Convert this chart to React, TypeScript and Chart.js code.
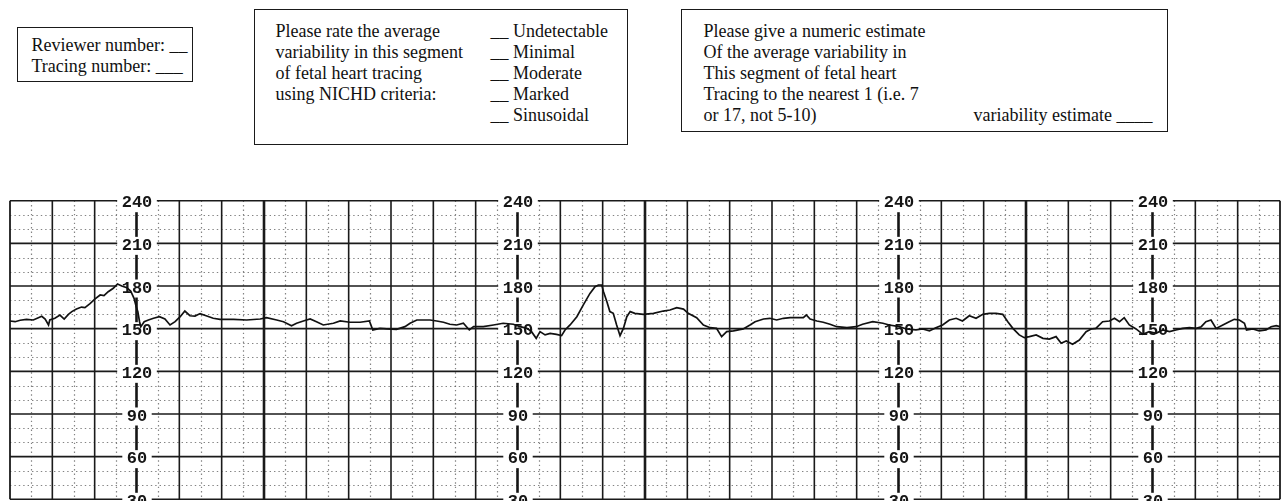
import React, { useEffect, useRef } from "react";
import { Chart, registerables } from "chart.js";

Chart.register(...registerables);

// Time axis in grid cells (30 cells across the strip), FHR in bpm
const timeCells = [
  0, 0.12, 0.24, 0.39, 0.55, 0.67, 0.75, 0.83, 0.91, 0.94,
  1.06, 1.18, 1.28, 1.38, 1.46, 1.57, 1.69, 1.77, 1.89, 2.01,
  2.13, 2.22, 2.32, 2.44, 2.54, 2.64, 2.76, 2.85, 2.93, 2.98,
  3.02, 3.06, 3.09, 3.17, 3.27, 3.39, 3.53, 3.66, 3.78, 3.9,
  4.02, 4.13, 4.25, 4.37, 4.49, 4.65, 4.8, 4.96, 5.28, 5.59,
  5.91, 6.06, 6.3, 6.46, 6.65, 6.77, 6.93, 7.09, 7.24, 7.4,
  7.64, 7.8, 8.03, 8.27, 8.49, 8.57, 8.74, 8.9, 9.13, 9.33,
  9.45, 9.61,
  9.92, 10.08, 10.24, 10.39, 10.55, 10.71, 10.85, 10.95, 11.18, 11.42,
  11.65, 11.89, 12.05, 12.21, 12.32, 12.43, 12.52, 12.64, 12.76, 12.91,
  13.03, 13.11, 13.23, 13.39, 13.54, 13.7, 13.82, 13.9, 13.98, 14.02,
  14.1, 14.17, 14.25, 14.33, 14.41, 14.49, 14.57, 14.65, 14.76, 14.96,
  15.2, 15.43, 15.59, 15.75, 15.91, 16.02, 16.22, 16.38, 16.54, 16.69,
  16.81, 16.93, 17.09, 17.32, 17.48, 17.6, 17.8, 17.95, 18.11, 18.27,
  18.43, 18.58, 18.74, 18.81, 18.9, 19.06, 19.21, 19.37, 19.53, 19.77,
  19.99, 20.14, 20.38, 20.62, 20.77, 21.01, 21.17, 21.4, 21.56, 21.72,
  21.87, 22.03, 22.19, 22.35, 22.5, 22.66, 22.82, 22.98, 23.13, 23.29,
  23.45, 23.57, 23.69, 23.84, 23.96, 24.08, 24.24, 24.4, 24.55, 24.71,
  24.83, 24.95, 25.1, 25.26, 25.42, 25.54, 25.65, 25.81, 25.97, 26.09,
  26.21, 26.32, 26.44, 26.6, 26.76, 26.91, 27.07, 27.23, 27.39, 27.54,
  27.7, 27.86, 28.02, 28.14, 28.25, 28.37, 28.49, 28.65, 28.8, 28.92,
  29.04, 29.16, 29.21, 29.36, 29.51, 29.67, 29.79, 29.91, 30.0,
];

const fhrBpm = [
  155.4, 154.9, 155.9, 156.6, 156.1, 157.7, 158.7, 156.8, 152.6, 156.1,
  157.3, 159.6, 156.8, 160.1, 162.0, 163.8, 165.2, 164.8, 167.6, 170.9,
  173.7, 173.2, 176.0, 178.4, 181.4, 180.0, 178.8, 176.5, 171.3, 165.5,
  162.0, 154.9, 151.4, 154.9, 156.1, 157.3, 158.4, 156.8, 152.6, 154.9,
  158.4, 162.4, 159.1, 158.9, 160.6, 158.9, 157.3, 156.6, 156.6, 156.1,
  156.8, 157.7, 156.1, 154.9, 152.1, 153.8, 155.4, 156.8, 154.9, 152.6,
  153.8, 155.4, 154.5, 154.5, 155.4, 149.1, 150.2, 149.8, 149.5, 151.4,
  153.8, 156.1,
  156.1, 155.4, 154.5, 153.1, 152.6, 153.8, 149.1, 151.4, 151.4, 152.6,
  153.8, 153.1, 151.4, 150.2, 147.9, 143.2, 147.9, 145.6, 146.7, 146.0,
  145.1, 149.1, 152.6, 158.4, 166.6, 174.8, 179.5, 180.7, 180.7, 176.0,
  169.0, 162.0, 160.8, 152.6, 145.1, 150.2, 158.4, 162.0, 160.8, 160.1,
  160.8, 162.4, 163.1, 164.8, 163.8, 160.8, 157.7, 152.6, 150.7, 150.2,
  144.4, 147.9, 148.4, 149.8, 152.6, 154.9, 156.8, 157.3, 156.1, 157.3,
  157.7, 157.7, 157.7, 159.6, 156.8, 155.4, 154.5, 153.1, 151.4, 150.7,
  151.4, 153.1, 154.9, 153.8, 152.6, 151.4, 149.8, 149.1, 149.8, 148.4,
  150.7, 152.6, 156.1, 157.3, 155.4, 159.1, 157.3, 160.1, 160.8, 160.8,
  160.1, 154.9, 150.2, 145.6, 143.7, 144.4, 145.6, 143.2, 142.7, 144.4,
  139.7, 141.3, 139.0, 142.0, 147.9, 149.8, 150.2, 154.9, 155.4, 157.3,
  154.9, 157.7, 152.6, 149.8, 146.0, 147.9, 146.7, 149.1, 147.9, 149.1,
  150.2, 150.7, 150.2, 151.4, 154.9, 156.1, 150.2, 152.6, 154.9, 156.6,
  156.1, 153.8, 149.1, 149.8, 148.4, 149.1, 151.4, 152.1, 151.4,
];

const bpmMajorTicks = [30, 60, 90, 120, 150, 180, 210, 240];
const bpmMinorTicks = [40, 50, 70, 80, 100, 110, 130, 140, 160, 170, 190, 200, 220, 230];
const scaleLabelColumns = [3, 12, 21, 27];
const heavyColumns = [6, 15, 24];
const cellCount = 30;

const ctgGridPlugin = {
  id: "ctgGrid",
  beforeDatasetsDraw(chart: any) {
    const { ctx, chartArea: a, scales } = chart;
    const xs = scales.x;
    const ys = scales.y;
    const seg = (x1: number, y1: number, x2: number, y2: number) => {
      ctx.beginPath();
      ctx.moveTo(x1, y1);
      ctx.lineTo(x2, y2);
      ctx.stroke();
    };
    ctx.save();
    // dotted minor grid
    ctx.strokeStyle = "rgba(90,90,90,0.75)";
    ctx.lineWidth = 1.2;
    ctx.setLineDash([1.4, 3]);
    for (const v of bpmMinorTicks) {
      const y = Math.round(ys.getPixelForValue(v)) + 0.5;
      seg(a.left, y, a.right, y);
    }
    for (let k = 0; k < cellCount; k++) {
      const x = Math.round(xs.getPixelForValue(k + 0.5)) + 0.5;
      seg(x, a.top, x, a.bottom);
    }
    ctx.setLineDash([]);
    // major horizontals
    ctx.strokeStyle = "#1a1a1a";
    ctx.lineWidth = 1.6;
    for (const v of bpmMajorTicks) {
      const y = ys.getPixelForValue(v);
      seg(a.left, y, a.right, y);
    }
    // major verticals
    for (let k = 0; k <= cellCount; k++) {
      if (scaleLabelColumns.includes(k)) continue;
      const x = xs.getPixelForValue(k);
      ctx.lineWidth = heavyColumns.includes(k) ? 2.6 : k === 0 || k === cellCount ? 1.8 : 1.6;
      seg(x, a.top, x, a.bottom);
    }
    // scale labels in the strip
    ctx.font = 'bold 17px "Liberation Mono", "Courier New", monospace';
    ctx.textAlign = "center";
    ctx.textBaseline = "alphabetic";
    for (const col of scaleLabelColumns) {
      const x = xs.getPixelForValue(col);
      for (const v of bpmMajorTicks) {
        const y = ys.getPixelForValue(v);
        const text = String(v);
        const w = ctx.measureText(text).width;
        ctx.fillStyle = "#ffffff";
        ctx.fillRect(x - w / 2 - 4.5, y - 2, w + 9, 4);
        ctx.fillStyle = "#151515";
        ctx.fillText(text, x, y + 6.6);
      }
      ctx.strokeStyle = "#151515";
      ctx.lineWidth = 2.6;
      for (let i = 0; i < bpmMajorTicks.length - 1; i++) {
        const yTop = ys.getPixelForValue(bpmMajorTicks[i + 1]);
        const yBot = ys.getPixelForValue(bpmMajorTicks[i]);
        seg(x - 0.5, yTop + 11.5, x - 0.5, yBot - 6.5);
      }
    }
    ctx.restore();
  },
};

function CtgStrip() {
  const ref = useRef<HTMLCanvasElement | null>(null);
  useEffect(() => {
    if (!ref.current) return;
    const n = Math.min(timeCells.length, fhrBpm.length);
    const points = [];
    for (let i = 0; i < n; i++) points.push({ x: timeCells[i], y: fhrBpm[i] });
    const chart = new Chart(ref.current, {
      type: "line",
      data: {
        datasets: [
          {
            data: points,
            borderColor: "#111111",
            borderWidth: 1.7,
            pointRadius: 0,
            tension: 0,
            fill: false,
          },
        ],
      },
      options: {
        animation: false,
        responsive: false,
        maintainAspectRatio: false,
        devicePixelRatio: 1,
        events: [],
        layout: { padding: { left: 10, right: 6, top: 20.7, bottom: 20.7 } },
        scales: {
          x: { type: "linear", min: 0, max: cellCount, display: false },
          y: { type: "linear", min: 30, max: 240, display: false },
        },
        plugins: { legend: { display: false }, tooltip: { enabled: false } },
      },
      plugins: [ctgGridPlugin],
    } as any);
    return () => chart.destroy();
  }, []);
  return (
    <canvas
      ref={ref}
      width={1286}
      height={340}
      style={{ position: "absolute", left: 0, top: 180, width: 1286, height: 340, display: "block" }}
    />
  );
}

const serif = '"Liberation Serif", "Times New Roman", serif';
const boxStyle: React.CSSProperties = {
  position: "absolute",
  border: "1.8px solid #1a1a1a",
  boxSizing: "border-box",
};

export default function App() {
  return (
    <div
      style={{
        position: "fixed",
        left: 0,
        top: 0,
        width: 1286,
        height: 501,
        overflow: "hidden",
        background: "#ffffff",
        fontFamily: serif,
        fontSize: 18,
        lineHeight: "21px",
        color: "#111",
        whiteSpace: "pre",
      }}
    >
      <div style={{ ...boxStyle, left: 17, top: 27, width: 176, height: 55 }}>
        <div style={{ position: "absolute", left: 13.5, top: 7 }}>
          {"Reviewer number: __\nTracing number: ___"}
        </div>
      </div>
      <div style={{ ...boxStyle, left: 254, top: 9, width: 374, height: 136 }}>
        <div style={{ position: "absolute", left: 20.5, top: 10.9 }}>
          {"Please rate the average\nvariability in this segment\nof fetal heart tracing\nusing NICHD criteria:"}
        </div>
        <div style={{ position: "absolute", left: 235.5, top: 10.9 }}>
          {"__ Undetectable\n__ Minimal\n__ Moderate\n__ Marked\n__ Sinusoidal"}
        </div>
      </div>
      <div style={{ ...boxStyle, left: 681, top: 9, width: 487, height: 123 }}>
        <div style={{ position: "absolute", left: 21.5, top: 10.9 }}>
          {"Please give a numeric estimate\nOf the average variability in\nThis segment of fetal heart\nTracing to the nearest 1 (i.e. 7\nor 17, not 5-10)"}
        </div>
        <div style={{ position: "absolute", right: 14.5, top: 94.9 }}>{"variability estimate ____"}</div>
      </div>
      <CtgStrip />
    </div>
  );
}
